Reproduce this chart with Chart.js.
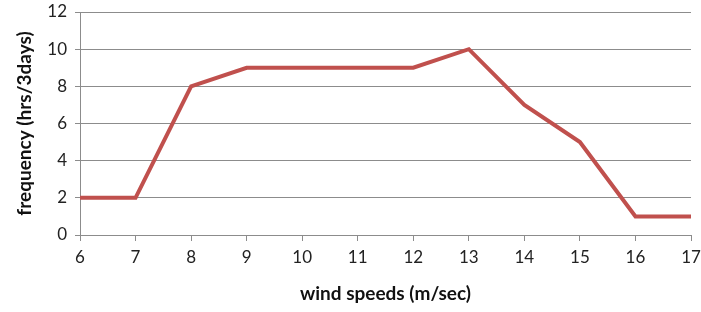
<!DOCTYPE html>
<html>
<head>
<meta charset="utf-8">
<script src="https://cdn.jsdelivr.net/npm/chart.js@4.4.0/dist/chart.umd.min.js"></script>
<style>
  body { margin: 0; background: #fff; }
  #wrap { width: 701px; height: 312px; }
</style>
</head>
<body>
<div id="wrap"><canvas id="myChart"></canvas></div>
<script>
const speeds = [6, 7, 8, 9, 10, 11, 12, 13, 14, 15, 16, 17];
const hours = [2, 2, 8, 9, 9, 9, 9, 10, 7, 5, 1, 1];
const yTicks = [0, 2, 4, 6, 8, 10, 12];

const points = speeds.map((s, i) => ({ x: s, y: hours[i] }));
const gridGray = "#8c8c8c";

const chart = new Chart("myChart", {
  type: "line",
  data: {
    datasets: [
      {
        data: points,
        borderColor: "#c0504d",
        borderWidth: 4,
        pointRadius: 0,
        tension: 0,
        fill: false,
      },
    ],
  },
  options: {
    responsive: true,
    maintainAspectRatio: false,
    animation: false,
    layout: { padding: { left: 13, right: 10, top: 12, bottom: 7 } },
    plugins: { legend: { display: false }, tooltip: { enabled: false } },
    scales: {
      x: {
        type: "linear",
        min: speeds[0],
        max: speeds[speeds.length - 1],
        afterFit: (s) => {
          s.height = 70;
          s.paddingLeft = 0;
          s.paddingRight = 0;
        },
        ticks: {
          stepSize: 1,
          color: "#222",
          padding: 6,
          maxRotation: 0,
          font: { family: "Lato", size: 17 },
        },
        grid: { drawOnChartArea: false, drawTicks: true, tickLength: 6, color: gridGray },
        border: { color: gridGray, width: 1 },
        title: {
          display: true,
          text: "wind speeds (m/sec)",
          color: "#111",
          font: { family: "Lato", size: 19, weight: "bold" },
          padding: { top: 2, bottom: 0 },
        },
      },
      y: {
        min: 0,
        max: 12,
        afterFit: (s) => {
          s.width = 67;
          s.paddingTop = 0;
          s.paddingBottom = 0;
        },
        afterBuildTicks: (s) => { s.ticks = yTicks.map((v) => ({ value: v })); },
        ticks: {
          color: "#222",
          padding: 8,
          font: { family: "Lato", size: 17 },
        },
        grid: { color: gridGray, tickLength: 5 },
        border: { color: gridGray, width: 1 },
        title: {
          display: true,
          text: "frequency (hrs/3days)",
          color: "#111",
          font: { family: "Lato", size: 19, weight: "bold" },
          padding: { top: 0, bottom: 4 },
        },
      },
    },
  },
});
</script>
</body>
</html>
